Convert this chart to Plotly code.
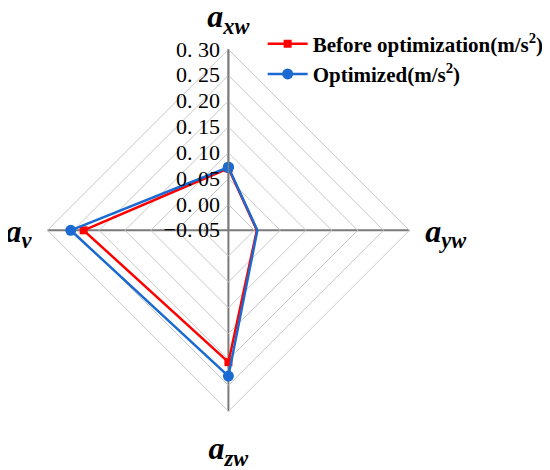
import plotly.graph_objects as go

categories = ['a_xw', 'a_yw', 'a_zw', 'a_v']
cat_labels = ['<b><i>a</i></b><sub><b><i>xw</i></b></sub>',
              '<b><i>a</i></b><sub><b><i>yw</i></b></sub>',
              '<b><i>a</i></b><sub><b><i>zw</i></b></sub>',
              '<b><i>a</i></b><sub><b><i>v</i></b></sub>']
before_vals = [0.070, 0.005, 0.205, 0.230]
optimized_vals = [0.072, 0.006, 0.232, 0.255]
tick_vals = [-0.05, 0.00, 0.05, 0.10, 0.15, 0.20, 0.25, 0.30]
tick_text = ['\u22120. 05', '0. 00', '0. 05', '0. 10', '0. 15', '0. 20', '0. 25', '0. 30']

red = '#ff0000'
blue = '#1a6ad2'

fig = go.Figure()
fig.add_trace(go.Scatterpolar(
    name='<b>Before optimization(m/s<sup>2</sup>)</b>',
    r=before_vals + before_vals[:1],
    theta=categories + categories[:1],
    mode='lines+markers',
    line=dict(color=red, width=2.5),
    marker=dict(symbol='square', size=8, color=red),
))
fig.add_trace(go.Scatterpolar(
    name='<b>Optimized(m/s<sup>2</sup>)</b>',
    r=optimized_vals + optimized_vals[:1],
    theta=categories + categories[:1],
    mode='lines+markers',
    line=dict(color=blue, width=2.5),
    marker=dict(symbol='circle', size=11, color=blue),
))

fig.update_layout(
    width=550, height=470,
    margin=dict(l=0, r=0, t=0, b=0, autoexpand=False),
    paper_bgcolor='white',
    font=dict(family='Liberation Serif', color='black'),
    polar=dict(
        domain=dict(x=[0.0695, 0.732], y=[0.142, 0.912]),
        bgcolor='white',
        gridshape='linear',
        radialaxis=dict(
            range=[-0.05, 0.30],
            tickvals=tick_vals,
            ticktext=tick_text,
            angle=90,
            side='counterclockwise',
            tickangle=90,
            tickfont=dict(size=22, family='Liberation Serif'),
            showline=True, linecolor='#7a7a7a', linewidth=1.5,
            gridcolor='#c8c8c8', gridwidth=1,
            ticks='',
        ),
        angularaxis=dict(
            direction='clockwise',
            rotation=90,
            tickvals=categories,
            ticktext=cat_labels,
            tickfont=dict(size=32, family='Liberation Serif'),
            showline=True, linecolor='#c8c8c8', linewidth=1,
            gridcolor='#7a7a7a', gridwidth=1.5,
            ticks='outside', ticklen=9, tickcolor='rgba(0,0,0,0)',
        ),
    ),
    legend=dict(
        x=0.463, y=0.967, xanchor='left', yanchor='top',
        font=dict(size=21, family='Liberation Serif'),
        bgcolor='rgba(0,0,0,0)',
        itemwidth=40,
    ),
)

fig.write_html('out.html')
